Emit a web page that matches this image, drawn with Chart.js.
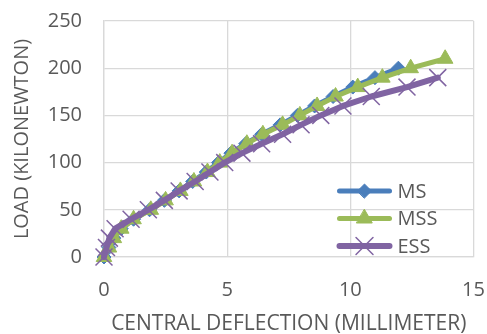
<!DOCTYPE html>
<html>
<head>
<meta charset="utf-8">
<script src="https://cdn.jsdelivr.net/npm/chart.js@4.4.1/dist/chart.umd.min.js"></script>
<style>
  html, body { margin: 0; padding: 0; background: #fff; }
  #wrap { width: 487px; height: 334px; }
</style>
</head>
<body>
<div id="wrap"><canvas id="chart"></canvas></div>
<script>
// Values (deflection in mm, load in kN)
const msDeflection = [0, 0.2, 0.4, 0.7, 1.2, 1.85, 2.45, 3.05, 3.6, 4.15, 4.65, 5.15, 5.75, 6.4, 7.15, 7.85, 8.55, 9.3, 10.1, 11.0, 11.95];
const msLoad = [0, 10, 20, 30, 40, 50, 60, 70, 80, 90, 100, 110, 120, 130, 140, 150, 160, 170, 180, 190, 200];

const mssDeflection = [0, 0.2, 0.4, 0.7, 1.2, 1.9, 2.5, 3.1, 3.65, 4.2, 4.7, 5.2, 5.8, 6.45, 7.25, 7.95, 8.65, 9.4, 10.3, 11.3, 12.45, 13.85];
const mssLoad = [0, 10, 20, 30, 40, 50, 60, 70, 80, 90, 100, 110, 120, 130, 140, 150, 160, 170, 180, 190, 200, 210];

const essDeflection = [0, 0.1, 0.22, 0.45, 1.1, 1.8, 2.45, 3.05, 3.7, 4.3, 4.9, 5.6, 6.4, 7.25, 8.0, 8.8, 9.7, 10.85, 12.3, 13.55];
const essLoad = [0, 10, 20, 30, 40, 50, 60, 70, 80, 90, 100, 110, 120, 130, 140, 150, 160, 170, 180, 190];

const xTicks = [0, 5, 10, 15];
const yTicks = [0, 50, 100, 150, 200, 250];

const textColor = '#595959';
const gridColor = '#d9d9d9';
const fontFamily = '"Open Sans", sans-serif';

function toPoints(xs, ys) {
  return xs.map((x, i) => ({ x: x, y: ys[i] }));
}

// Legend drawn inside the plot area, lower right, like the Excel original
const insideLegend = {
  id: 'insideLegend',
  afterDraw(chart) {
    const ctx = chart.ctx;
    const area = chart.chartArea;
    const x0 = area.right - 134;
    const x1 = x0 + 50;
    const mid = (x0 + x1) / 2;
    let y = area.bottom - 66;

    chart.data.datasets.forEach((ds) => {
      ctx.save();
      ctx.strokeStyle = ds.borderColor;
      ctx.lineWidth = ds.borderWidth;
      ctx.lineCap = 'round';
      ctx.beginPath();
      ctx.moveTo(x0, y);
      ctx.lineTo(x1, y);
      ctx.stroke();

      ctx.fillStyle = ds.pointBackgroundColor;
      ctx.strokeStyle = ds.pointBorderColor;
      ctx.lineWidth = ds.pointBorderWidth;
      Chart.helpers.drawPoint(ctx, {
        pointStyle: ds.pointStyle,
        radius: ds.pointRadius,
        rotation: 0,
        borderWidth: ds.pointBorderWidth
      }, mid, y);

      ctx.fillStyle = textColor;
      ctx.font = '20px ' + fontFamily;
      ctx.textAlign = 'left';
      ctx.textBaseline = 'middle';
      ctx.fillText(ds.label, x1 + 8, y + 1);
      ctx.restore();
      y += 27.5;
    });
  }
};

const ctx = document.getElementById('chart').getContext('2d');

new Chart(ctx, {
  type: 'scatter',
  data: {
    datasets: [
      {
        label: 'MS',
        data: toPoints(msDeflection, msLoad),
        showLine: true,
        borderColor: '#4a7ebb',
        borderWidth: 5,
        pointStyle: 'rectRot',
        pointRadius: 7,
        pointBackgroundColor: '#4a7ebb',
        pointBorderColor: '#4a7ebb',
        pointBorderWidth: 1,
        borderJoinStyle: 'round',
        borderCapStyle: 'round',
        clip: false,
        order: 2
      },
      {
        label: 'MSS',
        data: toPoints(mssDeflection, mssLoad),
        showLine: true,
        borderColor: '#9bbb59',
        borderWidth: 5,
        pointStyle: 'triangle',
        pointRadius: 9,
        pointBackgroundColor: '#9bbb59',
        pointBorderColor: '#9bbb59',
        pointBorderWidth: 1,
        borderJoinStyle: 'round',
        borderCapStyle: 'round',
        clip: false,
        order: 1
      },
      {
        label: 'ESS',
        data: toPoints(essDeflection, essLoad),
        showLine: true,
        borderColor: '#8064a2',
        borderWidth: 6,
        pointStyle: 'crossRot',
        pointRadius: 12,
        pointBackgroundColor: '#8064a2',
        pointBorderColor: '#8064a2',
        pointBorderWidth: 1.5,
        borderJoinStyle: 'round',
        borderCapStyle: 'round',
        clip: false,
        order: 0
      }
    ]
  },
  options: {
    responsive: true,
    maintainAspectRatio: false,
    animation: false,
    events: [],
    layout: {
      padding: { top: 21, right: 11, left: 0, bottom: 0 }
    },
    plugins: {
      legend: { display: false },
      tooltip: { enabled: false }
    },
    scales: {
      x: {
        type: 'linear',
        min: 0,
        max: 15,
        afterBuildTicks: (scale) => {
          scale.ticks = xTicks.map((v) => ({ value: v }));
        },
        afterFit: (scale) => {
          scale.height = 77;
          scale.paddingLeft = 0;
          scale.paddingRight = 0;
        },
        grid: { color: gridColor, lineWidth: 1.3, drawTicks: false },
        border: { color: gridColor, width: 1.3 },
        ticks: {
          color: textColor,
          padding: 21,
          maxRotation: 0,
          font: { family: fontFamily, size: 20 }
        },
        title: {
          display: true,
          text: 'CENTRAL DEFLECTION (MILLIMETER)',
          color: textColor,
          padding: { top: 0, bottom: -3 },
          font: { family: fontFamily, size: 21 }
        }
      },
      y: {
        type: 'linear',
        min: 0,
        max: 250,
        afterBuildTicks: (scale) => {
          scale.ticks = yTicks.map((v) => ({ value: v }));
        },
        afterFit: (scale) => {
          scale.width = 104;
          scale.paddingTop = 0;
          scale.paddingBottom = 0;
        },
        grid: { color: gridColor, lineWidth: 1.3, drawTicks: false },
        border: { color: gridColor, width: 1.3 },
        ticks: {
          color: textColor,
          padding: 22,
          font: { family: fontFamily, size: 20 }
        },
        title: {
          display: true,
          text: 'LOAD (KILONEWTON)',
          color: textColor,
          padding: { top: 10, bottom: 2 },
          font: { family: fontFamily, size: 20 }
        }
      }
    }
  },
  plugins: [insideLegend]
});
</script>
</body>
</html>
